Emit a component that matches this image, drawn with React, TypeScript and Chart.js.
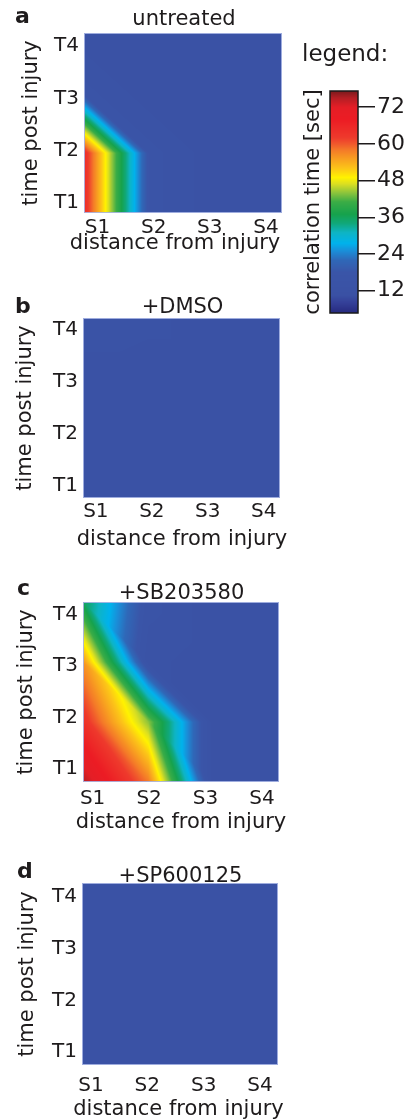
import React, { useEffect, useRef } from "react";
import { Chart, registerables } from "chart.js";

Chart.register(...registerables);

const FONT_FAMILY = "'DejaVu Sans', Verdana, sans-serif";
const TEXT_COLOR = "#1e1b1c";

// ---------------- data ----------------
const distanceLabels = ["S1", "S2", "S3", "S4"];
const timeLabels = ["T1", "T2", "T3", "T4"];
const panelLetters = ["a", "b", "c", "d"];
const panelTitles = ["untreated", "+DMSO", "+SB203580", "+SP600125"];
const xAxisTitle = "distance from injury";
const yAxisTitle = "time post injury";
const legendTitle = "legend:";
const colorbarTitle = "correlation time [sec]";
const colorbarTicks = [12, 24, 36, 48, 60, 72];
const colorbarMin = 4.7;
const colorbarMax = 77.3;

// correlation time [sec]; rows = T1..T4, columns = S1..S4
const untreated = [
  [65, 16, 12, 12],
  [65, 16, 12, 12],
  [16, 12, 12, 12],
  [12, 12, 12, 12],
];
const dmso = [
  [12, 12, 12, 12],
  [12, 12, 12, 12],
  [12, 12, 12, 12],
  [15, 14, 12, 12],
];
const sb203580 = [
  [75, 58, 12, 12],
  [64, 44, 12, 12],
  [56, 14, 12, 12],
  [36, 16, 12, 12],
];
const sp600125 = [
  [12, 12, 12, 12],
  [12, 12, 12, 12],
  [13, 12, 12, 12],
  [12, 12, 12, 12],
];
const panelValues = [untreated, dmso, sb203580, sp600125];

// ---------------- colour map (jet-like, as in the legend) ----------------
const CMAP_STOPS: [number, string][] = [
  [4.7, "#262a7e"],
  [8, "#343f98"],
  [10.5, "#3a51a4"],
  [18, "#3a55a8"],
  [22, "#2f68b8"],
  [25, "#1a8ed8"],
  [27.5, "#00b2ec"],
  [31, "#0eb4c4"],
  [34, "#10a87a"],
  [37, "#16a24c"],
  [41, "#3aac46"],
  [44, "#8cc43c"],
  [47, "#dde020"],
  [49, "#fff200"],
  [52, "#fcc418"],
  [55, "#f8a020"],
  [58, "#f47a28"],
  [60, "#f0582c"],
  [62, "#ee3a2c"],
  [68, "#ec1c24"],
  [72, "#e41e26"],
  [75, "#b41e24"],
  [77.3, "#7a1a1c"],
];
const CMAP_RGB = CMAP_STOPS.map(([v, hex]) => [
  v,
  parseInt(hex.slice(1, 3), 16),
  parseInt(hex.slice(3, 5), 16),
  parseInt(hex.slice(5, 7), 16),
]);
function cmap(v: number): [number, number, number] {
  if (v <= CMAP_RGB[0][0]) return [CMAP_RGB[0][1], CMAP_RGB[0][2], CMAP_RGB[0][3]];
  for (let k = 1; k < CMAP_RGB.length; k++) {
    const p = CMAP_RGB[k - 1];
    const q = CMAP_RGB[k];
    if (v <= q[0]) {
      const t = (v - p[0]) / (q[0] - p[0]);
      return [p[1] + t * (q[1] - p[1]), p[2] + t * (q[2] - p[2]), p[3] + t * (q[3] - p[3])];
    }
  }
  const l = CMAP_RGB[CMAP_RGB.length - 1];
  return [l[1], l[2], l[3]];
}

// triangulated (Gouraud-like) interpolation, each cell split top-left -> bottom-right
function interp(grid: number[][], xv: number, yv: number): number {
  const nx = grid[0].length;
  const ny = grid.length;
  const gx = Math.min(Math.max(xv - 1, 0), nx - 1);
  const gy = Math.min(Math.max(yv - 1, 0), ny - 1);
  const i = Math.min(Math.floor(gx), nx - 2);
  const j = Math.min(Math.floor(gy), ny - 2);
  const fx = gx - i;
  const fy = gy - j;
  const a = grid[j][i];
  const b = grid[j][i + 1];
  const c = grid[j + 1][i];
  const d = grid[j + 1][i + 1];
  if (fx + fy <= 1) return a + fx * (b - a) + fy * (c - a);
  return d + (1 - fx) * (c - d) + (1 - fy) * (b - d);
}

// ---------------- layout (page pixels) ----------------
type PanelLayout = {
  top: number;
  width: number;
  height: number;
  plot: { l: number; r: number; t: number; b: number };
  xRange: [number, number];
  yRange: [number, number];
  letter: { x: number; y: number };
  title: { x: number; y: number };
  xTitle: { x: number; y: number };
  yTitlePad: number;
  xTickPad: number;
};
const PANEL_LAYOUT: PanelLayout[] = [
  {
    top: 0, width: 300, height: 262,
    plot: { l: 84, r: 282, t: 33, b: 213 },
    xRange: [0.76, 4.285], yRange: [0.81, 4.25],
    letter: { x: 15, y: 23 }, title: { x: 184, y: 25 }, xTitle: { x: 175, y: 249 },
    yTitlePad: 19, xTickPad: 3,
  },
  {
    top: 280, width: 300, height: 275,
    plot: { l: 83, r: 280, t: 318, b: 498 },
    xRange: [0.77, 4.29], yRange: [0.77, 4.23],
    letter: { x: 15, y: 313 }, title: { x: 182.5, y: 313 }, xTitle: { x: 182, y: 545 },
    yTitlePad: 13, xTickPad: 2,
  },
  {
    top: 565, width: 300, height: 273,
    plot: { l: 83, r: 279, t: 602, b: 782 },
    xRange: [0.83, 4.3], yRange: [0.75, 4.25],
    letter: { x: 17, y: 595 }, title: { x: 181.5, y: 599 }, xTitle: { x: 181, y: 828 },
    yTitlePad: 14, xTickPad: 5,
  },
  {
    top: 850, width: 300, height: 269,
    plot: { l: 82, r: 278, t: 883, b: 1065 },
    xRange: [0.84, 4.32], yRange: [0.75, 4.27],
    letter: { x: 17, y: 878 }, title: { x: 180.5, y: 882 }, xTitle: { x: 178.5, y: 1115 },
    yTitlePad: 15, xTickPad: 9,
  },
];
const CB = { left: 290, top: 40, width: 122, height: 290, plot: { l: 330, r: 358, t: 91, b: 313 } };

// ---------------- plugins ----------------
type TextItem = { text: string; x: number; y: number; size: number; bold?: boolean; align: CanvasTextAlign };
function makeTextPlugin(items: TextItem[]) {
  return {
    id: "panelText",
    afterDraw(chart: any) {
      const ctx = chart.ctx as CanvasRenderingContext2D;
      items.forEach((it) => {
        ctx.save();
        ctx.font = `${it.bold ? "bold " : ""}${it.size}px ${FONT_FAMILY}`;
        ctx.fillStyle = TEXT_COLOR;
        ctx.textAlign = it.align;
        ctx.textBaseline = "alphabetic";
        ctx.fillText(it.text, it.x, it.y);
        ctx.restore();
      });
    },
  };
}

const heatmapPlugin = {
  id: "heatmap",
  beforeDatasetsDraw(chart: any) {
    const meta = chart.getDatasetMeta(0);
    const xs = chart.scales[meta.xAxisID];
    const ys = chart.scales[meta.yAxisID];
    const pts = chart.data.datasets[0].data as { x: number; y: number; v: number }[];
    const grid: number[][] = timeLabels.map(() => distanceLabels.map(() => 0));
    pts.forEach((p) => {
      grid[p.y - 1][p.x - 1] = p.v;
    });
    const { left, top, right, bottom } = chart.chartArea;
    const w = Math.round(right - left);
    const h = Math.round(bottom - top);
    const off = document.createElement("canvas");
    off.width = w;
    off.height = h;
    const octx = off.getContext("2d")!;
    const img = octx.createImageData(w, h);
    for (let py = 0; py < h; py++) {
      const yv = ys.getValueForPixel(top + py + 0.5);
      for (let px = 0; px < w; px++) {
        const xv = xs.getValueForPixel(left + px + 0.5);
        const [r, g, b] = cmap(interp(grid, xv, yv));
        const k = (py * w + px) * 4;
        img.data[k] = r;
        img.data[k + 1] = g;
        img.data[k + 2] = b;
        img.data[k + 3] = 255;
      }
    }
    octx.putImageData(img, 0, 0);
    const ctx = chart.ctx as CanvasRenderingContext2D;
    ctx.save();
    ctx.drawImage(off, left, top);
    ctx.strokeStyle = "rgba(170,182,228,0.9)";
    ctx.lineWidth = 1;
    ctx.strokeRect(left + 0.5, top + 0.5, w - 1, h - 1);
    ctx.restore();
  },
};

const colorbarPlugin = {
  id: "colorbar",
  beforeDatasetsDraw(chart: any) {
    const ys = chart.scales.y;
    const { left, top, right, bottom } = chart.chartArea;
    const ctx = chart.ctx as CanvasRenderingContext2D;
    ctx.save();
    for (let py = Math.round(top); py < Math.round(bottom); py++) {
      const [r, g, b] = cmap(ys.getValueForPixel(py + 0.5));
      ctx.fillStyle = `rgb(${Math.round(r)},${Math.round(g)},${Math.round(b)})`;
      ctx.fillRect(left, py, right - left, 1);
    }
    ctx.strokeStyle = "#1a1a1a";
    ctx.lineWidth = 1.5;
    ctx.strokeRect(left, top, right - left, bottom - top);
    ctx.restore();
  },
};

// ---------------- components ----------------
function HeatPanel({ index }: { index: number }) {
  const ref = useRef<HTMLCanvasElement>(null);
  const L = PANEL_LAYOUT[index];
  useEffect(() => {
    const values = panelValues[index];
    const points: { x: number; y: number; v: number }[] = [];
    timeLabels.forEach((_, yi) =>
      distanceLabels.forEach((__, xi) => points.push({ x: xi + 1, y: yi + 1, v: values[yi][xi] }))
    );
    const top = L.top;
    const tickFont = { family: FONT_FAMILY, size: 20 };
    const titleFont = { family: FONT_FAMILY, size: 21 };
    const chart = new Chart(ref.current!, {
      type: "scatter",
      data: {
        datasets: [
          { data: points as any, xAxisID: "xd", yAxisID: "yd", pointRadius: 0, pointHoverRadius: 0 },
        ],
      },
      options: {
        animation: false,
        responsive: false,
        events: [],
        layout: { padding: { left: 0, top: L.plot.t - top, right: L.width - L.plot.r, bottom: 0 } },
        plugins: { legend: { display: false }, tooltip: { enabled: false }, title: { display: false } },
        scales: {
          xd: { axis: "x", type: "linear", min: 1, max: 4, display: false },
          yd: { axis: "y", type: "linear", min: 1, max: 4, display: false },
          x: {
            axis: "x",
            type: "linear",
            position: "bottom",
            min: L.xRange[0],
            max: L.xRange[1],
            afterBuildTicks: (s: any) => {
              s.ticks = distanceLabels.map((_, i) => ({ value: i + 1 }));
            },
            afterFit: (s: any) => {
              s.height = L.height - (L.plot.b - top);
            },
            ticks: {
              callback: (v: any) => distanceLabels[Math.round(Number(v)) - 1],
              font: tickFont,
              color: TEXT_COLOR,
              padding: L.xTickPad,
              autoSkip: false,
              maxRotation: 0,
            },
            grid: { display: false, drawTicks: false },
            border: { display: false },
          },
          y: {
            axis: "y",
            type: "linear",
            position: "left",
            min: L.yRange[0],
            max: L.yRange[1],
            afterBuildTicks: (s: any) => {
              s.ticks = timeLabels.map((_, i) => ({ value: i + 1 }));
            },
            afterFit: (s: any) => {
              s.width = L.plot.l;
            },
            ticks: {
              callback: (v: any) => timeLabels[Math.round(Number(v)) - 1],
              font: tickFont,
              color: TEXT_COLOR,
              padding: 5,
              autoSkip: false,
            },
            grid: { display: false, drawTicks: false },
            border: { display: false },
            title: {
              display: true,
              text: yAxisTitle,
              font: titleFont,
              color: TEXT_COLOR,
              padding: { top: L.yTitlePad, bottom: 0 },
            },
          },
        },
      } as any,
      plugins: [
        heatmapPlugin,
        makeTextPlugin([
          { text: panelLetters[index], x: L.letter.x, y: L.letter.y - top, size: 22, bold: true, align: "left" },
          { text: panelTitles[index], x: L.title.x, y: L.title.y - top, size: 21, align: "center" },
          { text: xAxisTitle, x: L.xTitle.x, y: L.xTitle.y - top, size: 21, align: "center" },
        ]),
      ],
    });
    return () => chart.destroy();
  }, [index]);
  return (
    <canvas
      ref={ref}
      width={L.width}
      height={L.height}
      style={{ position: "absolute", left: 0, top: L.top, width: L.width, height: L.height }}
    />
  );
}

function Colorbar() {
  const ref = useRef<HTMLCanvasElement>(null);
  useEffect(() => {
    const font = { family: FONT_FAMILY, size: 21 };
    const chart = new Chart(ref.current!, {
      type: "scatter",
      data: { datasets: [] },
      options: {
        animation: false,
        responsive: false,
        events: [],
        layout: {
          padding: { left: 0, right: 0, top: CB.plot.t - CB.top, bottom: CB.top + CB.height - CB.plot.b },
        },
        plugins: { legend: { display: false }, tooltip: { enabled: false }, title: { display: false } },
        scales: {
          x: { type: "linear", display: false, min: 0, max: 1 },
          yl: {
            axis: "y",
            type: "linear",
            position: "left",
            min: colorbarMin,
            max: colorbarMax,
            afterFit: (s: any) => {
              s.width = CB.plot.l - CB.left;
            },
            ticks: { display: false },
            grid: { display: false, drawTicks: false },
            border: { display: false },
            title: {
              display: true,
              text: colorbarTitle,
              font,
              color: TEXT_COLOR,
              padding: { top: 11, bottom: 0 },
            },
          },
          y: {
            axis: "y",
            type: "linear",
            position: "right",
            min: colorbarMin,
            max: colorbarMax,
            afterBuildTicks: (s: any) => {
              s.ticks = colorbarTicks.map((v) => ({ value: v }));
            },
            afterFit: (s: any) => {
              s.width = CB.left + CB.width - CB.plot.r;
            },
            ticks: { font: { family: FONT_FAMILY, size: 22 }, color: TEXT_COLOR, padding: 2, autoSkip: false },
            grid: {
              display: true,
              drawOnChartArea: false,
              drawTicks: true,
              tickLength: 17,
              color: TEXT_COLOR,
              lineWidth: 1.5,
            },
            border: { display: false },
          },
        },
      } as any,
      plugins: [
        colorbarPlugin,
        makeTextPlugin([{ text: legendTitle, x: 12, y: 21, size: 23, align: "left" }]),
      ],
    });
    return () => chart.destroy();
  }, []);
  return (
    <canvas
      ref={ref}
      width={CB.width}
      height={CB.height}
      style={{ position: "absolute", left: CB.left, top: CB.top, width: CB.width, height: CB.height }}
    />
  );
}

export default function App() {
  return (
    <div
      style={{
        position: "absolute",
        left: 0,
        top: 0,
        width: 412,
        height: 1119,
        background: "#ffffff",
        overflow: "hidden",
      }}
    >
      {PANEL_LAYOUT.map((_, i) => (
        <HeatPanel key={i} index={i} />
      ))}
      <Colorbar />
    </div>
  );
}
